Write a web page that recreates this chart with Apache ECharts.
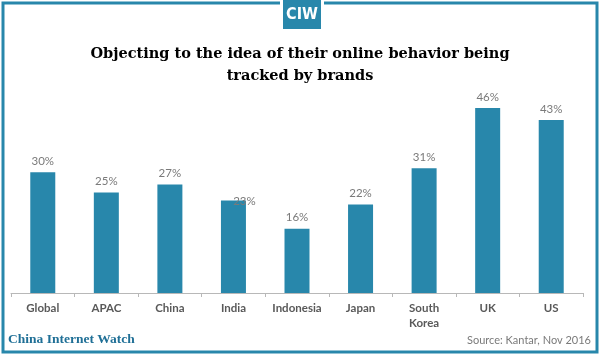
<!DOCTYPE html>
<html><head><meta charset="utf-8">
<script src="https://cdn.jsdelivr.net/npm/echarts@6/dist/echarts.min.js"></script>
<style>html,body{margin:0;padding:0;background:#fff}#c{width:600px;height:356px}</style>
</head><body><div id="c"></div>
<script>
const categories = ['Global','APAC','China','India','Indonesia','Japan','South\nKorea','UK','US'];
const values = [30,25,27,23,16,22,31,46,43];
const titleText = 'Objecting to the idea of their online behavior being\ntracked by brands';
const sourceText = 'Source: Kantar, Nov 2016';
const brandText = 'China Internet Watch';

const blue = '#2887ab';
const chart = echarts.init(document.getElementById('c'));
chart.setOption({
  animation: false,
  title: {
    text: titleText, left: 'center', top: 38,
    textStyle: {fontFamily: 'DejaVu Serif', fontWeight: 'bold', fontSize: 14.5, color: '#000', lineHeight: 22}
  },
  grid: {left: 11, right: 17, top: 108, bottom: 63, containLabel: false},
  xAxis: {
    type: 'category', data: categories,
    axisLine: {lineStyle: {color: '#b8b8b8', width: 1}},
    axisTick: {show: true, length: 4, lineStyle: {color: '#b8b8b8'}},
    axisLabel: {color: '#595959', fontFamily: 'Lato', fontWeight: 'bold', fontSize: 11.5, margin: 8, lineHeight: 15, interval: 0}
  },
  yAxis: {type: 'value', min: 0, max: 46, show: false, splitLine: {show: false}},
  series: [{
    type: 'bar', barWidth: 25,
    data: values.map((v, i) => categories[i] === 'India'
      ? {value: v, label: {offset: [11, 12]}} : v),
    itemStyle: {color: blue},
    label: {show: true, position: 'top', distance: 5, formatter: '{c}%', color: '#7a7a7a', fontFamily: 'Lato', fontSize: 11.5}
  }],
  graphic: [
    {type: 'rect', shape: {x: 3, y: 3, width: 594, height: 349}, style: {fill: 'none', stroke: blue, lineWidth: 3}},
    {type: 'rect', shape: {x: 280, y: 0, width: 44, height: 32}, style: {fill: '#fff'}},
    {type: 'rect', shape: {x: 283, y: 0, width: 38, height: 29}, style: {fill: blue}},
    {type: 'text', x: 302, y: 15, style: {text: 'CIW', fill: '#fff', font: 'bold 16px "Liberation Sans Narrow", "DejaVu Sans Condensed", sans-serif', align: 'center', verticalAlign: 'middle'}},
    {type: 'text', x: 8, y: 340, style: {text: brandText, fill: '#1f6f96', font: 'bold 13.5px "Liberation Serif"', verticalAlign: 'middle'}},
    {type: 'text', x: 591, y: 340, style: {text: sourceText, fill: '#7a7a7a', font: '11px Lato', align: 'right', verticalAlign: 'middle'}}
  ]
});
</script></body></html>
